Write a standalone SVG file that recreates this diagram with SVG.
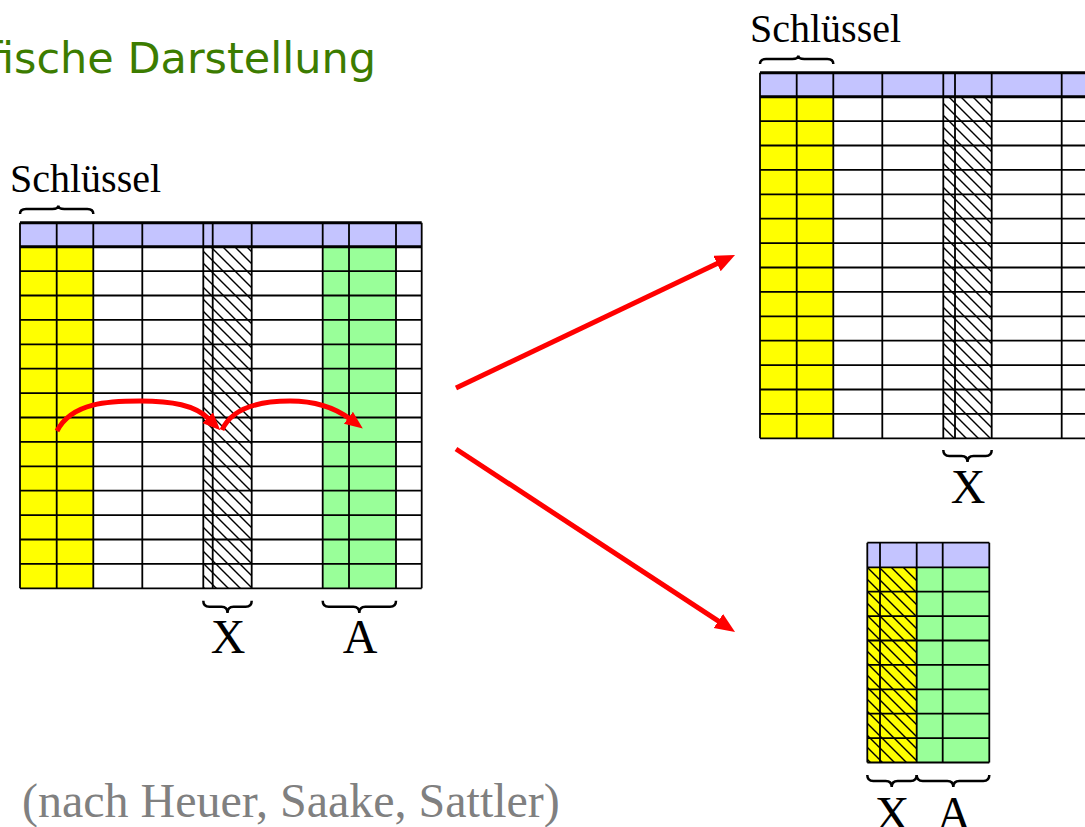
<svg xmlns="http://www.w3.org/2000/svg" width="1085" height="827" viewBox="0 0 1085 827">
<style>
.hdr{fill:#c4c4ff}
.yel{fill:#ffff00}
.grn{fill:#99ff99}
.wht{fill:#ffffff}
.grid{fill:none;stroke:#000;stroke-width:1.8}
.thick{fill:none;stroke:#000;stroke-width:3}
.brace{fill:none;stroke:#000;stroke-width:2.5}
.serif{font-family:"Liberation Serif","Times New Roman",serif;fill:#000}
.arr{fill:none;stroke:#ff0000;stroke-width:5}
</style>
<defs>
<pattern id="hatch" patternUnits="userSpaceOnUse" width="12" height="12">
<path d="M-3,-3 L15,15 M-3,9 L3,15 M9,-3 L15,3" stroke="#000" stroke-width="1.4"/>
</pattern>
<marker id="headBig" markerUnits="userSpaceOnUse" markerWidth="22" markerHeight="18" refX="2" refY="8.5" orient="auto">
<path d="M0,0 L20,8.5 L0,17 z" fill="#ff0000"/>
</marker>
<marker id="headSmall" markerUnits="userSpaceOnUse" markerWidth="20" markerHeight="16" refX="2" refY="7.5" orient="auto">
<path d="M0,0 L18,7.5 L0,15 z" fill="#ff0000"/>
</marker>
</defs>
<rect width="1085" height="827" fill="#fff"/>

<g id="title">
<text x="376" y="72.5" text-anchor="end" font-family="DejaVu Sans, sans-serif" font-size="43" fill="#3c7c00">Grafische Darstellung</text>
</g>

<g id="table-left">
<rect class="hdr" x="20" y="222.7" width="401.7" height="24"/>
<rect class="yel" x="20" y="246.7" width="73.3" height="341.6"/>
<rect class="wht" x="203.3" y="246.7" width="48.4" height="341.6"/>
<rect fill="url(#hatch)" x="203.3" y="246.7" width="48.4" height="341.6"/>
<rect class="grn" x="322.7" y="246.7" width="73.3" height="341.6"/>
<path class="grid" d="M20,271.1H421.7M20,295.5H421.7M20,319.9H421.7M20,344.3H421.7M20,368.7H421.7M20,393.1H421.7M20,417.5H421.7M20,441.9H421.7M20,466.3H421.7M20,490.7H421.7M20,515.1H421.7M20,539.5H421.7M20,563.9H421.7M20,588.3H421.7"/>
<path class="grid" d="M20,222.7V588.3M56.7,222.7V588.3M93.3,222.7V588.3M142.3,222.7V588.3M203.3,222.7V588.3M212.7,222.7V588.3M251.7,222.7V588.3M322.7,222.7V588.3M349,222.7V588.3M396,222.7V588.3M421.7,222.7V588.3"/>
<path class="thick" d="M20,222.7H421.7M20,246.7H421.7"/>
<text class="serif" x="10" y="191.7" font-size="40">Schlüssel</text>
<path class="brace" d="M20,214 Q20,209 26,209 H52.3 Q58.3,209 58.3,205.5 Q58.3,209 64.3,209 H87.3 Q93.3,209 93.3,214"/>
<path class="brace" d="M203.3,600.7 Q203.3,606.7 209.3,606.7 H221.5 Q227.5,606.7 227.5,613 Q227.5,606.7 233.5,606.7 H245.7 Q251.7,606.7 251.7,600.7"/>
<path class="brace" d="M322.7,600.7 Q322.7,606.7 328.7,606.7 H353.3 Q359.3,606.7 359.3,613 Q359.3,606.7 365.3,606.7 H390 Q396,606.7 396,600.7"/>
<text class="serif" x="228" y="653" font-size="48" text-anchor="middle">X</text>
<text class="serif" x="360" y="653" font-size="48" text-anchor="middle">A</text>
</g>

<g id="table-right-top">
<rect class="hdr" x="760" y="72.7" width="330" height="24"/>
<rect class="yel" x="760" y="96.7" width="73.3" height="341.6"/>
<rect fill="url(#hatch)" x="943.3" y="96.7" width="48.4" height="341.6"/>
<path class="grid" d="M760,121.1H1090M760,145.5H1090M760,169.9H1090M760,194.3H1090M760,218.7H1090M760,243.1H1090M760,267.5H1090M760,291.9H1090M760,316.3H1090M760,340.7H1090M760,365.1H1090M760,389.5H1090M760,413.9H1090M760,438.3H1090"/>
<path class="grid" d="M760,72.7V438.3M796.7,72.7V438.3M833.3,72.7V438.3M882.3,72.7V438.3M943.3,72.7V438.3M955,72.7V438.3M991.7,72.7V438.3M1061.7,72.7V438.3"/>
<path class="thick" d="M760,72.7H1090M760,96.7H1090"/>
<text class="serif" x="750" y="41.7" font-size="40">Schlüssel</text>
<path class="brace" d="M760,64 Q760,59 766,59 H792.3 Q798.3,59 798.3,55.5 Q798.3,59 804.3,59 H827.3 Q833.3,59 833.3,64"/>
<path class="brace" d="M943.3,450 Q943.3,456 949.3,456 H961.5 Q967.5,456 967.5,462 Q967.5,456 973.5,456 H985.7 Q991.7,456 991.7,450"/>
<text class="serif" x="968" y="503" font-size="48" text-anchor="middle">X</text>
</g>

<g id="table-right-bottom">
<rect class="hdr" x="867.3" y="542.7" width="122" height="24.6"/>
<rect class="yel" x="867.3" y="567.3" width="49.4" height="195.2"/>
<rect fill="url(#hatch)" x="867.3" y="567.3" width="49.4" height="195.2"/>
<rect class="grn" x="916.7" y="567.3" width="72.6" height="195.2"/>
<path class="grid" d="M867.3,542.7H989.3M867.3,567.3H989.3M867.3,591.7H989.3M867.3,616.1H989.3M867.3,640.5H989.3M867.3,664.9H989.3M867.3,689.3H989.3M867.3,713.7H989.3M867.3,738.1H989.3M867.3,762.5H989.3"/>
<path class="grid" d="M867.3,542.7V762.5M880,542.7V762.5M916.7,542.7V762.5M942.7,542.7V762.5M989.3,542.7V762.5"/>
<path class="brace" d="M867.3,775 Q867.3,781 873.3,781 H885.7 Q891.7,781 891.7,787 Q891.7,781 897.7,781 H910.7 Q916.7,781 916.7,775"/>
<path class="brace" d="M916.7,775 Q916.7,781 922.7,781 H947.3 Q953.3,781 953.3,787 Q953.3,781 959.3,781 H983.3 Q989.3,781 989.3,775"/>
<text class="serif" x="892" y="830" font-size="48" text-anchor="middle">X</text>
<text class="serif" x="954" y="830" font-size="48" text-anchor="middle">A</text>
</g>

<g id="connectors">
<path class="arr" d="M57,431 C72,402 110,401 140,401 C172,401 195,405 209,419" marker-end="url(#headSmall)"/>
<path class="arr" d="M222,430 C232,408 258,401 290,401 C318,401 338,410 350,419" marker-end="url(#headSmall)"/>
<path class="arr" d="M456,388 L718.8,262.7" marker-end="url(#headBig)"/>
<path class="arr" d="M456,449 L720,622.1" marker-end="url(#headBig)"/>
</g>

<g id="citation">
<text x="22" y="817" font-family="Liberation Serif, Times New Roman, serif" font-size="48" fill="#808080">(nach Heuer, Saake, Sattler)</text>
</g>
</svg>
